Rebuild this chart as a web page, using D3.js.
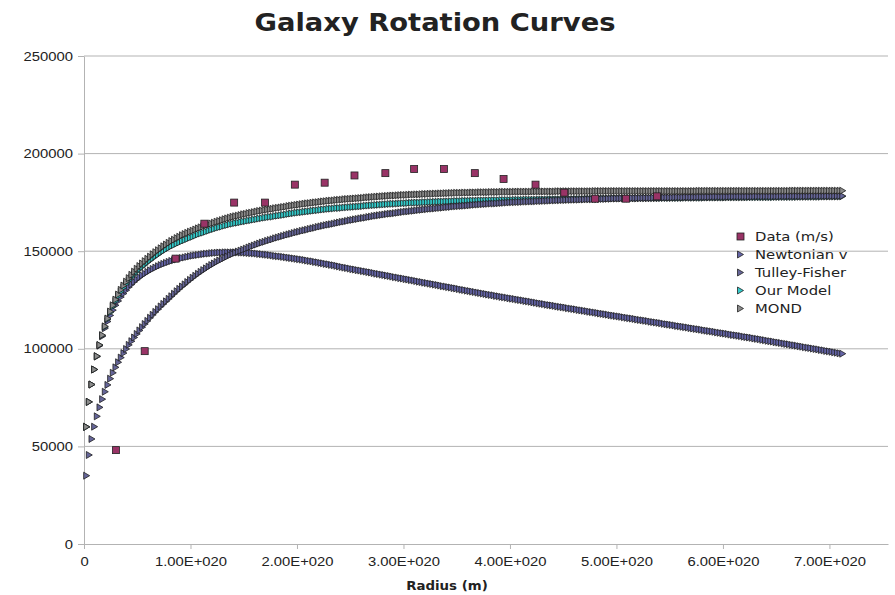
<!DOCTYPE html>
<html>
<head>
<meta charset="utf-8">
<title>Galaxy Rotation Curves</title>
<script src="https://d3js.org/d3.v7.min.js"></script>
<style>
  body { margin: 0; background: #ffffff; }
  svg { display: block; font-family: "DejaVu Sans", sans-serif; }
  .axis text { font-size: 13px; fill: #222; }
  .axis path, .axis line { stroke: #b3b3b3; }
  .grid line { stroke: #b3b3b3; }
</style>
</head>
<body>
<div id="chart"></div>
<script>
// radius of the model samples, in units of 1e18 m
const radius = [
  2.5,5,7.5,10,12.5,15,17.5,20,22.5,25,
  27.5,30,32.5,35,37.5,40,42.5,45,47.5,50,
  52.5,55,57.5,60,62.5,65,67.5,70,72.5,75,
  77.5,80,82.5,85,87.5,90,92.5,95,97.5,100,
  102.5,105,107.5,110,112.5,115,117.5,120,122.5,125,
  127.5,130,132.5,135,137.5,140,142.5,145,147.5,150,
  152.5,155,157.5,160,162.5,165,167.5,170,172.5,175,
  177.5,180,182.5,185,187.5,190,192.5,195,197.5,200,
  202.5,205,207.5,210,212.5,215,217.5,220,222.5,225,
  227.5,230,232.5,235,237.5,240,242.5,245,247.5,250,
  252.5,255,257.5,260,262.5,265,267.5,270,272.5,275,
  277.5,280,282.5,285,287.5,290,292.5,295,297.5,300,
  302.5,305,307.5,310,312.5,315,317.5,320,322.5,325,
  327.5,330,332.5,335,337.5,340,342.5,345,347.5,350,
  352.5,355,357.5,360,362.5,365,367.5,370,372.5,375,
  377.5,380,382.5,385,387.5,390,392.5,395,397.5,400,
  402.5,405,407.5,410,412.5,415,417.5,420,422.5,425,
  427.5,430,432.5,435,437.5,440,442.5,445,447.5,450,
  452.5,455,457.5,460,462.5,465,467.5,470,472.5,475,
  477.5,480,482.5,485,487.5,490,492.5,495,497.5,500,
  502.5,505,507.5,510,512.5,515,517.5,520,522.5,525,
  527.5,530,532.5,535,537.5,540,542.5,545,547.5,550,
  552.5,555,557.5,560,562.5,565,567.5,570,572.5,575,
  577.5,580,582.5,585,587.5,590,592.5,595,597.5,600,
  602.5,605,607.5,610,612.5,615,617.5,620,622.5,625,
  627.5,630,632.5,635,637.5,640,642.5,645,647.5,650,
  652.5,655,657.5,660,662.5,665,667.5,670,672.5,675,
  677.5,680,682.5,685,687.5,690,692.5,695,697.5,700,
  702.5,705,707.5,710,712.5
];

const newtonian = [
  60000,72800,81700,89400,96000,101600,106400,110500,114000,117100,
  119800,122300,124500,126500,128300,130000,131600,133000,134300,135500,
  136600,137600,138500,139400,140200,140900,141600,142300,142900,143500,
  144000,144500,145000,145400,145800,146200,146500,146800,147100,147400,
  147700,147900,148100,148300,148500,148700,148800,149000,149100,149200,
  149300,149300,149400,149400,149400,149400,149400,149400,149300,149300,
  149200,149100,149000,148900,148800,148600,148500,148300,148200,148000,
  147800,147600,147400,147300,147100,146900,146700,146500,146300,146100,
  145900,145700,145500,145200,145000,144800,144500,144300,144000,143800,
  143500,143300,143000,142800,142500,142200,141900,141600,141400,141100,
  140800,140600,140300,140100,139800,139600,139300,139100,138800,138500,
  138300,138000,137800,137500,137300,137000,136700,136500,136200,136000,
  135700,135500,135200,135000,134700,134400,134200,133900,133700,133400,
  133200,132900,132700,132400,132100,131900,131600,131400,131100,130900,
  130600,130300,130100,129800,129600,129300,129100,128800,128600,128300,
  128100,127800,127600,127400,127100,126900,126600,126400,126200,125900,
  125700,125500,125200,125000,124800,124500,124300,124100,123800,123600,
  123300,123100,122900,122600,122400,122200,122000,121700,121500,121300,
  121100,120800,120600,120400,120200,119900,119700,119500,119300,119000,
  118800,118600,118400,118100,117900,117700,117500,117200,117000,116800,
  116600,116400,116100,115900,115700,115500,115300,115000,114800,114600,
  114400,114200,113900,113700,113500,113300,113100,112800,112600,112400,
  112200,112000,111700,111500,111300,111100,110900,110600,110400,110200,
  110000,109800,109500,109300,109100,108900,108700,108400,108200,108000,
  107800,107600,107300,107100,106900,106700,106500,106200,106000,105800,
  105600,105300,105100,104900,104600,104400,104100,103900,103700,103400,
  103200,103000,102700,102500,102300,102000,101800,101600,101300,101100,
  100800,100600,100400,100100,99900,99700,99400,99200,98900,98700,
  98500,98200,98000,97700,97500
];

const tulleyFisher = [
  35000,45600,53800,60100,65400,70000,74200,78000,81500,84700,
  87700,90500,93100,95500,97800,99900,102000,103900,105800,107600,
  109400,111100,112700,114300,115900,117400,118900,120300,121700,123000,
  124300,125600,126900,128200,129500,130700,131900,133000,134200,135300,
  136400,137400,138400,139400,140300,141200,142100,142900,143700,144500,
  145200,145900,146600,147300,148000,148600,149200,149800,150300,150800,
  151300,151900,152400,152900,153400,153900,154400,154800,155300,155700,
  156100,156600,157000,157400,157800,158200,158600,158900,159300,159700,
  160000,160400,160700,161000,161400,161700,162000,162400,162700,163000,
  163300,163600,163800,164100,164400,164700,165000,165200,165500,165800,
  166000,166300,166500,166800,167000,167200,167500,167700,168000,168200,
  168400,168600,168800,169000,169200,169300,169500,169700,169900,170100,
  170300,170400,170600,170700,170900,171100,171200,171400,171500,171700,
  171800,171900,172100,172200,172300,172500,172600,172700,172900,173000,
  173100,173200,173300,173400,173500,173700,173800,173900,174000,174100,
  174200,174300,174400,174400,174500,174600,174700,174800,174900,175000,
  175100,175100,175200,175200,175300,175400,175400,175500,175500,175600,
  175700,175700,175800,175800,175900,176000,176000,176100,176100,176200,
  176200,176300,176300,176400,176400,176400,176500,176500,176600,176600,
  176600,176700,176700,176800,176800,176800,176900,176900,177000,177000,
  177000,177100,177100,177100,177100,177200,177200,177200,177200,177300,
  177300,177300,177300,177400,177400,177400,177400,177500,177500,177500,
  177500,177600,177600,177600,177600,177700,177700,177700,177700,177700,
  177800,177800,177800,177800,177800,177900,177900,177900,177900,177900,
  177900,177900,178000,178000,178000,178000,178000,178000,178000,178000,
  178000,178100,178100,178100,178100,178100,178100,178100,178100,178100,
  178100,178200,178200,178200,178200,178200,178200,178200,178200,178200,
  178200,178200,178300,178300,178300,178300,178300,178300,178300,178300,
  178300,178300,178300,178300,178300
];

const ourModel = [
  60000,72800,81700,89400,96200,101900,106800,111200,115100,118600,
  121700,124500,127000,129300,131400,133300,135000,136600,138100,139500,
  140800,142000,143100,144300,145300,146400,147400,148300,149300,150200,
  151000,151800,152600,153200,153900,154500,155200,155700,156300,156900,
  157400,158000,158600,159100,159500,160000,160500,161000,161400,161900,
  162300,162600,163100,163400,163800,164100,164400,164600,164900,165200,
  165400,165700,165900,166200,166400,166700,166900,167200,167400,167600,
  167700,168000,168200,168400,168600,168800,169100,169300,169500,169700,
  169900,170000,170200,170400,170500,170700,170900,171000,171200,171400,
  171500,171700,171800,171900,172100,172100,172200,172400,172500,172600,
  172700,172800,172900,173000,173100,173300,173400,173500,173600,173700,
  173800,173900,174000,174100,174200,174300,174300,174400,174500,174600,
  174600,174700,174800,174800,174900,174900,175000,175100,175100,175200,
  175200,175300,175300,175400,175400,175500,175500,175600,175600,175700,
  175700,175700,175800,175800,175800,175900,175900,175900,176000,176000,
  176000,176000,176100,176100,176100,176100,176200,176200,176200,176200,
  176200,176300,176300,176300,176300,176400,176400,176400,176400,176400,
  176500,176500,176500,176500,176600,176600,176600,176600,176600,176700,
  176700,176700,176700,176700,176800,176800,176800,176800,176900,176900,
  176900,176900,176900,177000,177000,177000,177000,177000,177100,177100,
  177100,177100,177100,177100,177100,177100,177100,177100,177200,177200,
  177200,177200,177200,177200,177200,177200,177300,177300,177300,177300,
  177300,177300,177300,177300,177300,177400,177400,177400,177400,177400,
  177400,177400,177400,177500,177500,177500,177500,177500,177500,177500,
  177500,177600,177600,177600,177600,177600,177600,177600,177600,177700,
  177700,177700,177700,177700,177700,177700,177700,177700,177700,177800,
  177800,177800,177800,177800,177800,177800,177800,177800,177900,177900,
  177900,177900,177900,177900,177900,177900,177900,178000,178000,178000,
  178000,178000,178000,178000,178100
];

const mond = [
  60000,72800,81700,89400,96200,101900,107000,111500,115500,119100,
  122300,125200,127800,130200,132400,134400,136200,137900,139500,141000,
  142400,143700,144900,146100,147200,148400,149500,150500,151500,152500,
  153400,154300,155200,155900,156700,157400,158200,158800,159400,160000,
  160500,161100,161700,162200,162700,163200,163700,164200,164600,165100,
  165500,165900,166400,166800,167200,167600,167900,168200,168500,168900,
  169100,169500,169700,170000,170300,170600,170800,171100,171300,171500,
  171700,172000,172200,172400,172600,172800,173100,173300,173500,173700,
  173900,174100,174300,174500,174600,174800,175000,175100,175300,175500,
  175600,175800,175900,176000,176200,176300,176400,176600,176700,176800,
  176900,177000,177100,177200,177300,177500,177600,177700,177800,177900,
  178000,178100,178200,178300,178400,178500,178500,178600,178700,178800,
  178800,178900,179000,179000,179100,179100,179200,179300,179300,179400,
  179400,179500,179500,179600,179600,179700,179700,179800,179800,179900,
  179900,179900,180000,180000,180000,180100,180100,180100,180200,180200,
  180200,180200,180300,180300,180300,180300,180400,180400,180400,180400,
  180400,180500,180500,180500,180500,180500,180500,180500,180600,180600,
  180600,180600,180600,180600,180600,180600,180600,180700,180700,180700,
  180700,180700,180700,180700,180700,180700,180700,180700,180700,180700,
  180700,180800,180800,180800,180800,180800,180800,180800,180800,180800,
  180800,180800,180800,180800,180800,180800,180800,180800,180800,180800,
  180800,180800,180800,180800,180800,180800,180800,180800,180800,180800,
  180800,180800,180800,180800,180800,180800,180800,180800,180800,180800,
  180900,180900,180900,180900,180900,180900,180900,180900,180900,180900,
  180900,180900,180900,180900,180900,180900,180900,180900,180900,180900,
  180900,180900,180900,180900,180900,180900,180900,180900,180900,180900,
  180900,180900,180900,180900,180900,181000,181000,181000,181000,181000,
  181000,181000,181000,181000,181000,181000,181000,181000,181000,181000,
  181000,181000,181000,181000,181000
];

// measured points, radius in units of 1e18 m
const dataRadius = [30,57,86,113,141,170,198,226,254,283,310,338,367,394,424,451,480,509,538];
const dataVelocity = [48100,98800,146200,164100,174900,174900,184100,185100,188800,190000,
  192100,192100,190000,187000,184100,180000,176900,176900,178100];

const xTickValues = [0,1e20,2e20,3e20,4e20,5e20,6e20,7e20];
const xTickLabels = ['0','1.00E+020','2.00E+020','3.00E+020','4.00E+020','5.00E+020','6.00E+020','7.00E+020'];
const yTickValues = [0,50000,100000,150000,200000,250000];
const yTickLabels = ['0','50000','100000','150000','200000','250000'];

const legendNames = ['Data (m/s)','Newtonian v','Tulley-Fisher','Our Model','MOND'];
const legendColors = ['#993366','#6565a8','#666699','#33cccc','#8c8c8c'];

const width = 895, height = 595;
const stretch = 1.14; // text in the picture is drawn a bit wide
const triangle = 'M-3,-3.5L3,0L-3,3.5Z';

const svg = d3.select('#chart').append('svg')
  .attr('width', width)
  .attr('height', height);

const x = d3.scaleLinear().domain([0, 7.55e20]).range([84, 888]);
const y = d3.scaleLinear().domain([0, 250000]).range([544, 56]);

// horizontal grid
svg.append('g')
  .attr('class', 'grid')
  .selectAll('line')
  .data(yTickValues.slice(1))
  .enter()
  .append('line')
  .attr('x1', x(0))
  .attr('x2', x(7.55e20))
  .attr('y1', d => y(d))
  .attr('y2', d => y(d));

const yAxisGroup = svg.append('g')
  .attr('class', 'axis')
  .attr('transform', `translate(${x(0)},0)`)
  .call(d3.axisLeft(y)
    .tickValues(yTickValues)
    .tickFormat((d, i) => yTickLabels[i])
    .tickSizeInner(6)
    .tickSizeOuter(0));
yAxisGroup.selectAll('text')
  .attr('x', -11 / stretch)
  .attr('transform', `scale(${stretch},1)`);

const xAxisGroup = svg.append('g')
  .attr('class', 'axis')
  .attr('transform', `translate(0,${y(0)})`)
  .call(d3.axisBottom(x)
    .tickValues(xTickValues)
    .tickFormat((d, i) => xTickLabels[i])
    .tickSizeInner(5)
    .tickSizeOuter(0)
    .tickPadding(8));
xAxisGroup.selectAll('text')
  .attr('transform', `scale(${stretch},1)`);

// model curves, drawn as dense triangle markers
function drawSeries(values, color) {
  svg.append('g')
    .selectAll('path')
    .data(values)
    .enter()
    .append('path')
    .attr('d', triangle)
    .attr('transform', (d, i) => `translate(${x(radius[i] * 1e18)},${y(d)})`)
    .attr('fill', color)
    .attr('stroke', '#1e1e1e')
    .attr('stroke-width', 0.8);
}

drawSeries(newtonian, legendColors[1]);
drawSeries(ourModel, legendColors[3]);
drawSeries(tulleyFisher, legendColors[2]);
drawSeries(mond, legendColors[4]);

// observed data
svg.append('g')
  .selectAll('rect')
  .data(dataVelocity)
  .enter()
  .append('rect')
  .attr('x', (d, i) => x(dataRadius[i] * 1e18) - 3.5)
  .attr('y', d => y(d) - 3.5)
  .attr('width', 7)
  .attr('height', 7)
  .attr('fill', legendColors[0])
  .attr('stroke', '#222')
  .attr('stroke-width', 0.8);

// titles
svg.append('text')
  .attr('transform', `translate(435,31) scale(${stretch},1)`)
  .attr('text-anchor', 'middle')
  .style('font-size', '24px')
  .style('font-weight', 'bold')
  .attr('fill', '#222')
  .text('Galaxy Rotation Curves');

svg.append('text')
  .attr('transform', `translate(447,590) scale(${stretch},1)`)
  .attr('text-anchor', 'middle')
  .style('font-size', '11.7px')
  .style('font-weight', 'bold')
  .attr('fill', '#222')
  .text('Radius (m)');

// legend
const legend = svg.append('g');
legendNames.forEach((name, k) => {
  const ly = 236.5 + 18 * k;
  if (k === 0) {
    legend.append('rect')
      .attr('x', 737).attr('y', ly - 3.5)
      .attr('width', 7).attr('height', 7)
      .attr('fill', legendColors[k])
      .attr('stroke', '#222').attr('stroke-width', 0.8);
  } else {
    legend.append('path')
      .attr('d', triangle)
      .attr('transform', `translate(740.5,${ly})`)
      .attr('fill', legendColors[k])
      .attr('stroke', '#222').attr('stroke-width', 0.8);
  }
  legend.append('text')
    .attr('transform', `translate(755,${ly + 4.5}) scale(${stretch},1)`)
    .style('font-size', '13px')
    .attr('fill', '#222')
    .text(name);
});
</script>
</body>
</html>
